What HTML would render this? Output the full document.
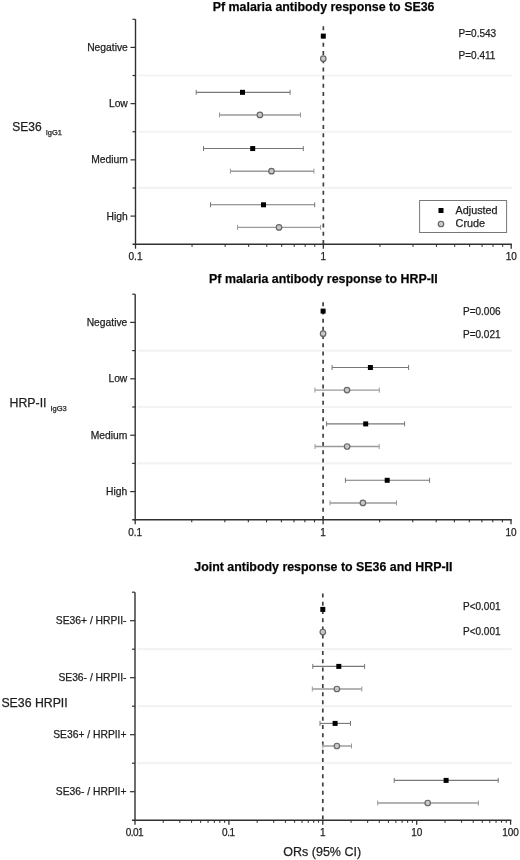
<!DOCTYPE html>
<html><head><meta charset="utf-8"><style>
html,body{margin:0;padding:0;background:#fff;}
svg{display:block;will-change:transform;font-family:'Liberation Sans', sans-serif;}
text{stroke:#1e1e1e;stroke-width:.25px;}
</style></head><body>
<svg width="520" height="860" viewBox="0 0 520 860">
<rect width="520" height="860" fill="#fff"/>
<line x1="138.0" y1="75.52" x2="512.2" y2="75.52" stroke="#f3f3f3" stroke-width="2.2"/>
<line x1="138.0" y1="131.75" x2="512.2" y2="131.75" stroke="#f3f3f3" stroke-width="2.2"/>
<line x1="138.0" y1="187.97" x2="512.2" y2="187.97" stroke="#f3f3f3" stroke-width="2.2"/>
<text x="323.6" y="10.5" text-anchor="middle" font-weight="bold" font-size="12.4" fill="#000">Pf malaria antibody response to SE36</text>
<line x1="323.35" y1="26.3" x2="323.35" y2="244.2" stroke="#404040" stroke-width="1.7" stroke-dasharray="4 4.22"/>
<rect x="320.80" y="33.61" width="5" height="5" fill="#000"/>
<circle cx="323.30" cy="58.71" r="2.75" fill="#c8c8c8" stroke="#686868" stroke-width="1.2"/>
<line x1="196.2" y1="92.34" x2="290.1" y2="92.34" stroke="#777" stroke-width="1.1"/>
<line x1="196.2" y1="89.84" x2="196.2" y2="94.84" stroke="#777" stroke-width="1"/>
<line x1="290.1" y1="89.84" x2="290.1" y2="94.84" stroke="#777" stroke-width="1"/>
<line x1="219.5" y1="114.94" x2="300.5" y2="114.94" stroke="#9a9a9a" stroke-width="1.45"/>
<line x1="219.5" y1="112.44" x2="219.5" y2="117.44" stroke="#9a9a9a" stroke-width="1"/>
<line x1="300.5" y1="112.44" x2="300.5" y2="117.44" stroke="#9a9a9a" stroke-width="1"/>
<rect x="240.00" y="89.84" width="5" height="5" fill="#000"/>
<circle cx="259.90" cy="114.94" r="2.75" fill="#c8c8c8" stroke="#686868" stroke-width="1.2"/>
<line x1="203.5" y1="148.56" x2="303.3" y2="148.56" stroke="#777" stroke-width="1.1"/>
<line x1="203.5" y1="146.06" x2="203.5" y2="151.06" stroke="#777" stroke-width="1"/>
<line x1="303.3" y1="146.06" x2="303.3" y2="151.06" stroke="#777" stroke-width="1"/>
<line x1="230.4" y1="171.16" x2="313.9" y2="171.16" stroke="#9a9a9a" stroke-width="1.45"/>
<line x1="230.4" y1="168.66" x2="230.4" y2="173.66" stroke="#9a9a9a" stroke-width="1"/>
<line x1="313.9" y1="168.66" x2="313.9" y2="173.66" stroke="#9a9a9a" stroke-width="1"/>
<rect x="250.20" y="146.06" width="5" height="5" fill="#000"/>
<circle cx="271.50" cy="171.16" r="2.75" fill="#c8c8c8" stroke="#686868" stroke-width="1.2"/>
<line x1="210.5" y1="204.79" x2="314.7" y2="204.79" stroke="#777" stroke-width="1.1"/>
<line x1="210.5" y1="202.29" x2="210.5" y2="207.29" stroke="#777" stroke-width="1"/>
<line x1="314.7" y1="202.29" x2="314.7" y2="207.29" stroke="#777" stroke-width="1"/>
<line x1="237.5" y1="227.39" x2="320.6" y2="227.39" stroke="#9a9a9a" stroke-width="1.45"/>
<line x1="237.5" y1="224.89" x2="237.5" y2="229.89" stroke="#9a9a9a" stroke-width="1"/>
<line x1="320.6" y1="224.89" x2="320.6" y2="229.89" stroke="#9a9a9a" stroke-width="1"/>
<rect x="261.00" y="202.29" width="5" height="5" fill="#000"/>
<circle cx="279.00" cy="227.39" r="2.75" fill="#c8c8c8" stroke="#686868" stroke-width="1.2"/>
<line x1="135.5" y1="19.3" x2="135.5" y2="244.89999999999998" stroke="#303030" stroke-width="1.4"/>
<line x1="132.5" y1="244.2" x2="511.9" y2="244.2" stroke="#303030" stroke-width="1.4"/>
<line x1="132.5" y1="19.30" x2="135.5" y2="19.30" stroke="#303030" stroke-width="1.2"/>
<line x1="130.5" y1="47.41" x2="135.5" y2="47.41" stroke="#303030" stroke-width="1.2"/>
<line x1="132.5" y1="75.52" x2="135.5" y2="75.52" stroke="#303030" stroke-width="1.2"/>
<line x1="130.5" y1="103.64" x2="135.5" y2="103.64" stroke="#303030" stroke-width="1.2"/>
<line x1="132.5" y1="131.75" x2="135.5" y2="131.75" stroke="#303030" stroke-width="1.2"/>
<line x1="130.5" y1="159.86" x2="135.5" y2="159.86" stroke="#303030" stroke-width="1.2"/>
<line x1="132.5" y1="187.97" x2="135.5" y2="187.97" stroke="#303030" stroke-width="1.2"/>
<line x1="130.5" y1="216.09" x2="135.5" y2="216.09" stroke="#303030" stroke-width="1.2"/>
<line x1="135.50" y1="244.2" x2="135.50" y2="248.7" stroke="#303030" stroke-width="1.3"/>
<line x1="192.05" y1="244.2" x2="192.05" y2="246.7" stroke="#303030" stroke-width="1.1"/>
<line x1="225.13" y1="244.2" x2="225.13" y2="246.7" stroke="#303030" stroke-width="1.1"/>
<line x1="248.60" y1="244.2" x2="248.60" y2="246.7" stroke="#303030" stroke-width="1.1"/>
<line x1="266.80" y1="244.2" x2="266.80" y2="246.7" stroke="#303030" stroke-width="1.1"/>
<line x1="281.68" y1="244.2" x2="281.68" y2="246.7" stroke="#303030" stroke-width="1.1"/>
<line x1="294.25" y1="244.2" x2="294.25" y2="246.7" stroke="#303030" stroke-width="1.1"/>
<line x1="305.15" y1="244.2" x2="305.15" y2="246.7" stroke="#303030" stroke-width="1.1"/>
<line x1="314.75" y1="244.2" x2="314.75" y2="246.7" stroke="#303030" stroke-width="1.1"/>
<line x1="323.35" y1="244.2" x2="323.35" y2="248.7" stroke="#303030" stroke-width="1.3"/>
<line x1="379.90" y1="244.2" x2="379.90" y2="246.7" stroke="#303030" stroke-width="1.1"/>
<line x1="412.98" y1="244.2" x2="412.98" y2="246.7" stroke="#303030" stroke-width="1.1"/>
<line x1="436.45" y1="244.2" x2="436.45" y2="246.7" stroke="#303030" stroke-width="1.1"/>
<line x1="454.65" y1="244.2" x2="454.65" y2="246.7" stroke="#303030" stroke-width="1.1"/>
<line x1="469.53" y1="244.2" x2="469.53" y2="246.7" stroke="#303030" stroke-width="1.1"/>
<line x1="482.10" y1="244.2" x2="482.10" y2="246.7" stroke="#303030" stroke-width="1.1"/>
<line x1="493.00" y1="244.2" x2="493.00" y2="246.7" stroke="#303030" stroke-width="1.1"/>
<line x1="502.60" y1="244.2" x2="502.60" y2="246.7" stroke="#303030" stroke-width="1.1"/>
<line x1="511.20" y1="244.2" x2="511.20" y2="248.7" stroke="#303030" stroke-width="1.3"/>
<text x="135.50" y="259.8" text-anchor="middle" font-size="10" fill="#1e1e1e">0.1</text>
<text x="323.35" y="259.8" text-anchor="middle" font-size="10" fill="#1e1e1e">1</text>
<text x="511.20" y="259.8" text-anchor="middle" font-size="10" fill="#1e1e1e">10</text>
<text x="127.8" y="50.91" text-anchor="end" font-size="10.3" fill="#1e1e1e">Negative</text>
<text x="127.8" y="107.14" text-anchor="end" font-size="10.3" fill="#1e1e1e">Low</text>
<text x="127.8" y="163.36" text-anchor="end" font-size="10.3" fill="#1e1e1e">Medium</text>
<text x="127.8" y="219.59" text-anchor="end" font-size="10.3" fill="#1e1e1e">High</text>
<text x="458.6" y="36.6" font-size="10" fill="#1e1e1e">P=0.543</text>
<text x="458.6" y="58.6" font-size="10" fill="#1e1e1e">P=0.411</text>
<text x="12.3" y="130.8" font-size="12" fill="#1e1e1e">SE36<tspan dx="4" dy="4.6" font-size="7.5">IgG1</tspan></text>
<line x1="137.7" y1="350.60" x2="512.0" y2="350.60" stroke="#f3f3f3" stroke-width="2.2"/>
<line x1="137.7" y1="407.00" x2="512.0" y2="407.00" stroke="#f3f3f3" stroke-width="2.2"/>
<line x1="137.7" y1="463.40" x2="512.0" y2="463.40" stroke="#f3f3f3" stroke-width="2.2"/>
<text x="323.4" y="283.4" text-anchor="middle" font-weight="bold" font-size="12.4" fill="#000">Pf malaria antibody response to HRP-II</text>
<line x1="323.10" y1="302.2" x2="323.10" y2="519.8" stroke="#404040" stroke-width="1.7" stroke-dasharray="4 4.22"/>
<rect x="320.60" y="308.60" width="5" height="5" fill="#000"/>
<circle cx="323.10" cy="333.70" r="2.75" fill="#c8c8c8" stroke="#686868" stroke-width="1.2"/>
<line x1="332.1" y1="367.50" x2="408.6" y2="367.50" stroke="#777" stroke-width="1.1"/>
<line x1="332.1" y1="365.00" x2="332.1" y2="370.00" stroke="#777" stroke-width="1"/>
<line x1="408.6" y1="365.00" x2="408.6" y2="370.00" stroke="#777" stroke-width="1"/>
<line x1="314.9" y1="390.10" x2="379.3" y2="390.10" stroke="#9a9a9a" stroke-width="1.45"/>
<line x1="314.9" y1="387.60" x2="314.9" y2="392.60" stroke="#9a9a9a" stroke-width="1"/>
<line x1="379.3" y1="387.60" x2="379.3" y2="392.60" stroke="#9a9a9a" stroke-width="1"/>
<rect x="367.90" y="365.00" width="5" height="5" fill="#000"/>
<circle cx="347.00" cy="390.10" r="2.75" fill="#c8c8c8" stroke="#686868" stroke-width="1.2"/>
<line x1="326.6" y1="423.90" x2="404.6" y2="423.90" stroke="#777" stroke-width="1.1"/>
<line x1="326.6" y1="421.40" x2="326.6" y2="426.40" stroke="#777" stroke-width="1"/>
<line x1="404.6" y1="421.40" x2="404.6" y2="426.40" stroke="#777" stroke-width="1"/>
<line x1="315.0" y1="446.50" x2="379.2" y2="446.50" stroke="#9a9a9a" stroke-width="1.45"/>
<line x1="315.0" y1="444.00" x2="315.0" y2="449.00" stroke="#9a9a9a" stroke-width="1"/>
<line x1="379.2" y1="444.00" x2="379.2" y2="449.00" stroke="#9a9a9a" stroke-width="1"/>
<rect x="363.20" y="421.40" width="5" height="5" fill="#000"/>
<circle cx="347.10" cy="446.50" r="2.75" fill="#c8c8c8" stroke="#686868" stroke-width="1.2"/>
<line x1="345.4" y1="480.30" x2="429.6" y2="480.30" stroke="#777" stroke-width="1.1"/>
<line x1="345.4" y1="477.80" x2="345.4" y2="482.80" stroke="#777" stroke-width="1"/>
<line x1="429.6" y1="477.80" x2="429.6" y2="482.80" stroke="#777" stroke-width="1"/>
<line x1="330.0" y1="502.90" x2="396.5" y2="502.90" stroke="#9a9a9a" stroke-width="1.45"/>
<line x1="330.0" y1="500.40" x2="330.0" y2="505.40" stroke="#9a9a9a" stroke-width="1"/>
<line x1="396.5" y1="500.40" x2="396.5" y2="505.40" stroke="#9a9a9a" stroke-width="1"/>
<rect x="384.70" y="477.80" width="5" height="5" fill="#000"/>
<circle cx="362.90" cy="502.90" r="2.75" fill="#c8c8c8" stroke="#686868" stroke-width="1.2"/>
<line x1="135.2" y1="294.2" x2="135.2" y2="520.5" stroke="#303030" stroke-width="1.4"/>
<line x1="132.2" y1="519.8" x2="511.7" y2="519.8" stroke="#303030" stroke-width="1.4"/>
<line x1="132.2" y1="294.20" x2="135.2" y2="294.20" stroke="#303030" stroke-width="1.2"/>
<line x1="130.2" y1="322.40" x2="135.2" y2="322.40" stroke="#303030" stroke-width="1.2"/>
<line x1="132.2" y1="350.60" x2="135.2" y2="350.60" stroke="#303030" stroke-width="1.2"/>
<line x1="130.2" y1="378.80" x2="135.2" y2="378.80" stroke="#303030" stroke-width="1.2"/>
<line x1="132.2" y1="407.00" x2="135.2" y2="407.00" stroke="#303030" stroke-width="1.2"/>
<line x1="130.2" y1="435.20" x2="135.2" y2="435.20" stroke="#303030" stroke-width="1.2"/>
<line x1="132.2" y1="463.40" x2="135.2" y2="463.40" stroke="#303030" stroke-width="1.2"/>
<line x1="130.2" y1="491.60" x2="135.2" y2="491.60" stroke="#303030" stroke-width="1.2"/>
<line x1="135.20" y1="519.8" x2="135.20" y2="524.3" stroke="#303030" stroke-width="1.3"/>
<line x1="191.76" y1="519.8" x2="191.76" y2="522.3" stroke="#303030" stroke-width="1.1"/>
<line x1="224.85" y1="519.8" x2="224.85" y2="522.3" stroke="#303030" stroke-width="1.1"/>
<line x1="248.33" y1="519.8" x2="248.33" y2="522.3" stroke="#303030" stroke-width="1.1"/>
<line x1="266.54" y1="519.8" x2="266.54" y2="522.3" stroke="#303030" stroke-width="1.1"/>
<line x1="281.41" y1="519.8" x2="281.41" y2="522.3" stroke="#303030" stroke-width="1.1"/>
<line x1="293.99" y1="519.8" x2="293.99" y2="522.3" stroke="#303030" stroke-width="1.1"/>
<line x1="304.89" y1="519.8" x2="304.89" y2="522.3" stroke="#303030" stroke-width="1.1"/>
<line x1="314.50" y1="519.8" x2="314.50" y2="522.3" stroke="#303030" stroke-width="1.1"/>
<line x1="323.10" y1="519.8" x2="323.10" y2="524.3" stroke="#303030" stroke-width="1.3"/>
<line x1="379.66" y1="519.8" x2="379.66" y2="522.3" stroke="#303030" stroke-width="1.1"/>
<line x1="412.75" y1="519.8" x2="412.75" y2="522.3" stroke="#303030" stroke-width="1.1"/>
<line x1="436.23" y1="519.8" x2="436.23" y2="522.3" stroke="#303030" stroke-width="1.1"/>
<line x1="454.44" y1="519.8" x2="454.44" y2="522.3" stroke="#303030" stroke-width="1.1"/>
<line x1="469.31" y1="519.8" x2="469.31" y2="522.3" stroke="#303030" stroke-width="1.1"/>
<line x1="481.89" y1="519.8" x2="481.89" y2="522.3" stroke="#303030" stroke-width="1.1"/>
<line x1="492.79" y1="519.8" x2="492.79" y2="522.3" stroke="#303030" stroke-width="1.1"/>
<line x1="502.40" y1="519.8" x2="502.40" y2="522.3" stroke="#303030" stroke-width="1.1"/>
<line x1="511.00" y1="519.8" x2="511.00" y2="524.3" stroke="#303030" stroke-width="1.3"/>
<text x="135.20" y="535.6" text-anchor="middle" font-size="10" fill="#1e1e1e">0.1</text>
<text x="323.10" y="535.6" text-anchor="middle" font-size="10" fill="#1e1e1e">1</text>
<text x="511.00" y="535.6" text-anchor="middle" font-size="10" fill="#1e1e1e">10</text>
<text x="127.3" y="325.90" text-anchor="end" font-size="10.3" fill="#1e1e1e">Negative</text>
<text x="127.3" y="382.30" text-anchor="end" font-size="10.3" fill="#1e1e1e">Low</text>
<text x="127.3" y="438.70" text-anchor="end" font-size="10.3" fill="#1e1e1e">Medium</text>
<text x="127.3" y="495.10" text-anchor="end" font-size="10.3" fill="#1e1e1e">High</text>
<text x="463.0" y="314.9" font-size="10" fill="#1e1e1e">P=0.006</text>
<text x="463.0" y="337.6" font-size="10" fill="#1e1e1e">P=0.021</text>
<text x="9.6" y="406.6" font-size="12.3" fill="#1e1e1e">HRP-II<tspan dx="4" dy="4.8" font-size="7.5">IgG3</tspan></text>
<line x1="137.5" y1="649.20" x2="511.6" y2="649.20" stroke="#f3f3f3" stroke-width="2.2"/>
<line x1="137.5" y1="706.20" x2="511.6" y2="706.20" stroke="#f3f3f3" stroke-width="2.2"/>
<line x1="137.5" y1="763.20" x2="511.6" y2="763.20" stroke="#f3f3f3" stroke-width="2.2"/>
<text x="323.4" y="570.8" text-anchor="middle" font-weight="bold" font-size="12.4" fill="#000">Joint antibody response to SE36 and HRP-II</text>
<line x1="322.80" y1="593.5" x2="322.80" y2="820.2" stroke="#404040" stroke-width="1.7" stroke-dasharray="4 4.22"/>
<rect x="320.30" y="606.90" width="5" height="5" fill="#000"/>
<circle cx="322.80" cy="632.00" r="2.75" fill="#c8c8c8" stroke="#686868" stroke-width="1.2"/>
<line x1="312.8" y1="666.40" x2="364.6" y2="666.40" stroke="#777" stroke-width="1.1"/>
<line x1="312.8" y1="663.90" x2="312.8" y2="668.90" stroke="#777" stroke-width="1"/>
<line x1="364.6" y1="663.90" x2="364.6" y2="668.90" stroke="#777" stroke-width="1"/>
<line x1="312.3" y1="689.00" x2="361.8" y2="689.00" stroke="#9a9a9a" stroke-width="1.45"/>
<line x1="312.3" y1="686.50" x2="312.3" y2="691.50" stroke="#9a9a9a" stroke-width="1"/>
<line x1="361.8" y1="686.50" x2="361.8" y2="691.50" stroke="#9a9a9a" stroke-width="1"/>
<rect x="336.30" y="663.90" width="5" height="5" fill="#000"/>
<circle cx="336.90" cy="689.00" r="2.75" fill="#c8c8c8" stroke="#686868" stroke-width="1.2"/>
<line x1="320.0" y1="723.40" x2="350.5" y2="723.40" stroke="#777" stroke-width="1.1"/>
<line x1="320.0" y1="720.90" x2="320.0" y2="725.90" stroke="#777" stroke-width="1"/>
<line x1="350.5" y1="720.90" x2="350.5" y2="725.90" stroke="#777" stroke-width="1"/>
<line x1="322.8" y1="746.00" x2="351.5" y2="746.00" stroke="#9a9a9a" stroke-width="1.45"/>
<line x1="322.8" y1="743.50" x2="322.8" y2="748.50" stroke="#9a9a9a" stroke-width="1"/>
<line x1="351.5" y1="743.50" x2="351.5" y2="748.50" stroke="#9a9a9a" stroke-width="1"/>
<rect x="332.60" y="720.90" width="5" height="5" fill="#000"/>
<circle cx="336.90" cy="746.00" r="2.75" fill="#c8c8c8" stroke="#686868" stroke-width="1.2"/>
<line x1="394.2" y1="780.40" x2="498.2" y2="780.40" stroke="#777" stroke-width="1.1"/>
<line x1="394.2" y1="777.90" x2="394.2" y2="782.90" stroke="#777" stroke-width="1"/>
<line x1="498.2" y1="777.90" x2="498.2" y2="782.90" stroke="#777" stroke-width="1"/>
<line x1="377.7" y1="803.00" x2="478.4" y2="803.00" stroke="#9a9a9a" stroke-width="1.45"/>
<line x1="377.7" y1="800.50" x2="377.7" y2="805.50" stroke="#9a9a9a" stroke-width="1"/>
<line x1="478.4" y1="800.50" x2="478.4" y2="805.50" stroke="#9a9a9a" stroke-width="1"/>
<rect x="443.60" y="777.90" width="5" height="5" fill="#000"/>
<circle cx="427.70" cy="803.00" r="2.75" fill="#c8c8c8" stroke="#686868" stroke-width="1.2"/>
<line x1="135.0" y1="592.2" x2="135.0" y2="820.9000000000001" stroke="#303030" stroke-width="1.4"/>
<line x1="132.0" y1="820.2" x2="511.3" y2="820.2" stroke="#303030" stroke-width="1.4"/>
<line x1="132.0" y1="592.20" x2="135.0" y2="592.20" stroke="#303030" stroke-width="1.2"/>
<line x1="130.0" y1="620.70" x2="135.0" y2="620.70" stroke="#303030" stroke-width="1.2"/>
<line x1="132.0" y1="649.20" x2="135.0" y2="649.20" stroke="#303030" stroke-width="1.2"/>
<line x1="130.0" y1="677.70" x2="135.0" y2="677.70" stroke="#303030" stroke-width="1.2"/>
<line x1="132.0" y1="706.20" x2="135.0" y2="706.20" stroke="#303030" stroke-width="1.2"/>
<line x1="130.0" y1="734.70" x2="135.0" y2="734.70" stroke="#303030" stroke-width="1.2"/>
<line x1="132.0" y1="763.20" x2="135.0" y2="763.20" stroke="#303030" stroke-width="1.2"/>
<line x1="130.0" y1="791.70" x2="135.0" y2="791.70" stroke="#303030" stroke-width="1.2"/>
<line x1="135.00" y1="820.2" x2="135.00" y2="824.7" stroke="#303030" stroke-width="1.3"/>
<line x1="163.27" y1="820.2" x2="163.27" y2="822.7" stroke="#303030" stroke-width="1.1"/>
<line x1="179.80" y1="820.2" x2="179.80" y2="822.7" stroke="#303030" stroke-width="1.1"/>
<line x1="191.53" y1="820.2" x2="191.53" y2="822.7" stroke="#303030" stroke-width="1.1"/>
<line x1="200.63" y1="820.2" x2="200.63" y2="822.7" stroke="#303030" stroke-width="1.1"/>
<line x1="208.07" y1="820.2" x2="208.07" y2="822.7" stroke="#303030" stroke-width="1.1"/>
<line x1="214.35" y1="820.2" x2="214.35" y2="822.7" stroke="#303030" stroke-width="1.1"/>
<line x1="219.80" y1="820.2" x2="219.80" y2="822.7" stroke="#303030" stroke-width="1.1"/>
<line x1="224.60" y1="820.2" x2="224.60" y2="822.7" stroke="#303030" stroke-width="1.1"/>
<line x1="228.90" y1="820.2" x2="228.90" y2="824.7" stroke="#303030" stroke-width="1.3"/>
<line x1="257.17" y1="820.2" x2="257.17" y2="822.7" stroke="#303030" stroke-width="1.1"/>
<line x1="273.70" y1="820.2" x2="273.70" y2="822.7" stroke="#303030" stroke-width="1.1"/>
<line x1="285.43" y1="820.2" x2="285.43" y2="822.7" stroke="#303030" stroke-width="1.1"/>
<line x1="294.53" y1="820.2" x2="294.53" y2="822.7" stroke="#303030" stroke-width="1.1"/>
<line x1="301.97" y1="820.2" x2="301.97" y2="822.7" stroke="#303030" stroke-width="1.1"/>
<line x1="308.25" y1="820.2" x2="308.25" y2="822.7" stroke="#303030" stroke-width="1.1"/>
<line x1="313.70" y1="820.2" x2="313.70" y2="822.7" stroke="#303030" stroke-width="1.1"/>
<line x1="318.50" y1="820.2" x2="318.50" y2="822.7" stroke="#303030" stroke-width="1.1"/>
<line x1="322.80" y1="820.2" x2="322.80" y2="824.7" stroke="#303030" stroke-width="1.3"/>
<line x1="351.07" y1="820.2" x2="351.07" y2="822.7" stroke="#303030" stroke-width="1.1"/>
<line x1="367.60" y1="820.2" x2="367.60" y2="822.7" stroke="#303030" stroke-width="1.1"/>
<line x1="379.33" y1="820.2" x2="379.33" y2="822.7" stroke="#303030" stroke-width="1.1"/>
<line x1="388.43" y1="820.2" x2="388.43" y2="822.7" stroke="#303030" stroke-width="1.1"/>
<line x1="395.87" y1="820.2" x2="395.87" y2="822.7" stroke="#303030" stroke-width="1.1"/>
<line x1="402.15" y1="820.2" x2="402.15" y2="822.7" stroke="#303030" stroke-width="1.1"/>
<line x1="407.60" y1="820.2" x2="407.60" y2="822.7" stroke="#303030" stroke-width="1.1"/>
<line x1="412.40" y1="820.2" x2="412.40" y2="822.7" stroke="#303030" stroke-width="1.1"/>
<line x1="416.70" y1="820.2" x2="416.70" y2="824.7" stroke="#303030" stroke-width="1.3"/>
<line x1="444.97" y1="820.2" x2="444.97" y2="822.7" stroke="#303030" stroke-width="1.1"/>
<line x1="461.50" y1="820.2" x2="461.50" y2="822.7" stroke="#303030" stroke-width="1.1"/>
<line x1="473.23" y1="820.2" x2="473.23" y2="822.7" stroke="#303030" stroke-width="1.1"/>
<line x1="482.33" y1="820.2" x2="482.33" y2="822.7" stroke="#303030" stroke-width="1.1"/>
<line x1="489.77" y1="820.2" x2="489.77" y2="822.7" stroke="#303030" stroke-width="1.1"/>
<line x1="496.05" y1="820.2" x2="496.05" y2="822.7" stroke="#303030" stroke-width="1.1"/>
<line x1="501.50" y1="820.2" x2="501.50" y2="822.7" stroke="#303030" stroke-width="1.1"/>
<line x1="506.30" y1="820.2" x2="506.30" y2="822.7" stroke="#303030" stroke-width="1.1"/>
<line x1="510.60" y1="820.2" x2="510.60" y2="824.7" stroke="#303030" stroke-width="1.3"/>
<text x="134.40" y="835.7" text-anchor="middle" font-size="10" fill="#1e1e1e" letter-spacing="-0.5">0.01</text>
<text x="228.30" y="835.7" text-anchor="middle" font-size="10" fill="#1e1e1e" letter-spacing="-0.5">0.1</text>
<text x="322.80" y="835.7" text-anchor="middle" font-size="10" fill="#1e1e1e">1</text>
<text x="416.70" y="835.7" text-anchor="middle" font-size="10" fill="#1e1e1e">10</text>
<text x="510.60" y="835.7" text-anchor="middle" font-size="10" fill="#1e1e1e">100</text>
<text x="126.5" y="624.20" text-anchor="end" font-size="10.3" fill="#1e1e1e">SE36+ / HRPII-</text>
<text x="126.5" y="681.20" text-anchor="end" font-size="10.3" fill="#1e1e1e">SE36- / HRPII-</text>
<text x="126.5" y="738.20" text-anchor="end" font-size="10.3" fill="#1e1e1e">SE36+ / HRPII+</text>
<text x="126.5" y="795.20" text-anchor="end" font-size="10.3" fill="#1e1e1e">SE36- / HRPII+</text>
<text x="463.0" y="609.5" font-size="10" fill="#1e1e1e">P&lt;0.001</text>
<text x="463.0" y="635.4" font-size="10" fill="#1e1e1e">P&lt;0.001</text>
<text x="1.4" y="706.6" font-size="12.3" fill="#1e1e1e">SE36 HRPII</text>
<rect x="419.6" y="200.5" width="87" height="32" fill="#fff" stroke="#777" stroke-width="1"/>
<rect x="438.5" y="208" width="5" height="5" fill="#000"/>
<circle cx="441" cy="224" r="2.75" fill="#c8c8c8" stroke="#686868" stroke-width="1.2"/>
<text x="455.6" y="214" font-size="10.8" fill="#1e1e1e">Adjusted</text>
<text x="455.6" y="227.2" font-size="10.8" fill="#1e1e1e">Crude</text>
<text x="322.2" y="856.2" text-anchor="middle" font-size="12.5" fill="#1e1e1e">ORs (95% CI)</text>
</svg>
</body></html>
